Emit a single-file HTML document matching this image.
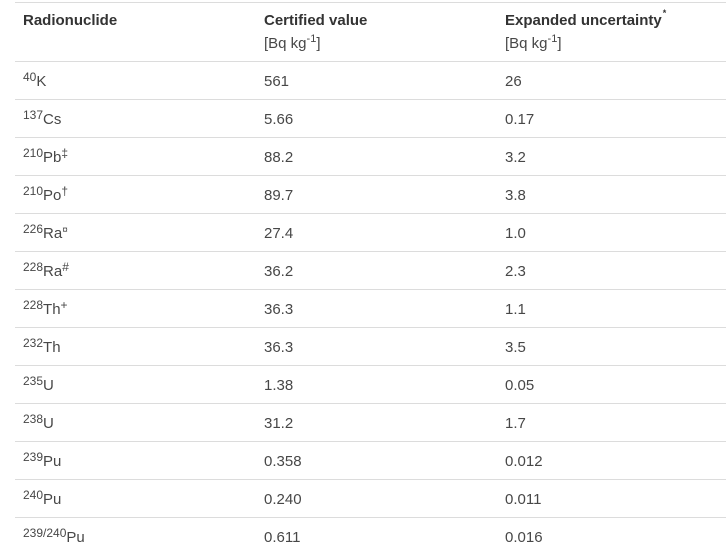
<!DOCTYPE html>
<html>
<head>
<meta charset="utf-8">
<style>
  html, body { margin:0; padding:0; background:#fff; }
  body { width:726px; height:553px; position:relative; overflow:hidden;
         font-family:"Liberation Sans", Arial, sans-serif; font-size:15px; color:#474747; }
  .ln { position:absolute; left:15px; right:0; height:1px; background:#dcdcdc; }
  .t { position:absolute; line-height:20px; white-space:nowrap; }
  .h { font-weight:bold; color:#333; }
  sup { font-size:12px; line-height:0; vertical-align:baseline; position:relative; top:-5px; }
  sup.s { font-size:11px; top:-6px; }
  sup.a { font-size:9px; top:-9px; margin-left:1px; }
  .c1 { left:23px; } .c2 { left:264px; } .c3 { left:505px; }
</style>
</head>
<body>
<div class="ln" style="top:2px"></div>
<div class="t h c1" style="top:11px">Radionuclide</div>
<div class="t h c2" style="top:11px">Certified value</div>
<div class="t h c3" style="top:11px">Expanded uncertainty<sup class="a">*</sup></div>
<div class="t c2" style="top:34px">[Bq kg<sup class="s">-1</sup>]</div>
<div class="t c3" style="top:34px">[Bq kg<sup class="s">-1</sup>]</div>

<div class="ln" style="top:61px"></div>
<div class="t c1" style="top:72px"><sup>40</sup>K</div>
<div class="t c2" style="top:72px">561</div>
<div class="t c3" style="top:72px">26</div>

<div class="ln" style="top:99px"></div>
<div class="t c1" style="top:110px"><sup>137</sup>Cs</div>
<div class="t c2" style="top:110px">5.66</div>
<div class="t c3" style="top:110px">0.17</div>

<div class="ln" style="top:137px"></div>
<div class="t c1" style="top:148px"><sup>210</sup>Pb<sup>‡</sup></div>
<div class="t c2" style="top:148px">88.2</div>
<div class="t c3" style="top:148px">3.2</div>

<div class="ln" style="top:175px"></div>
<div class="t c1" style="top:186px"><sup>210</sup>Po<sup>†</sup></div>
<div class="t c2" style="top:186px">89.7</div>
<div class="t c3" style="top:186px">3.8</div>

<div class="ln" style="top:213px"></div>
<div class="t c1" style="top:224px"><sup>226</sup>Ra<sup style="font-size:10px">¤</sup></div>
<div class="t c2" style="top:224px">27.4</div>
<div class="t c3" style="top:224px">1.0</div>

<div class="ln" style="top:251px"></div>
<div class="t c1" style="top:262px"><sup>228</sup>Ra<sup>#</sup></div>
<div class="t c2" style="top:262px">36.2</div>
<div class="t c3" style="top:262px">2.3</div>

<div class="ln" style="top:289px"></div>
<div class="t c1" style="top:300px"><sup>228</sup>Th<sup>+</sup></div>
<div class="t c2" style="top:300px">36.3</div>
<div class="t c3" style="top:300px">1.1</div>

<div class="ln" style="top:327px"></div>
<div class="t c1" style="top:338px"><sup>232</sup>Th</div>
<div class="t c2" style="top:338px">36.3</div>
<div class="t c3" style="top:338px">3.5</div>

<div class="ln" style="top:365px"></div>
<div class="t c1" style="top:376px"><sup>235</sup>U</div>
<div class="t c2" style="top:376px">1.38</div>
<div class="t c3" style="top:376px">0.05</div>

<div class="ln" style="top:403px"></div>
<div class="t c1" style="top:414px"><sup>238</sup>U</div>
<div class="t c2" style="top:414px">31.2</div>
<div class="t c3" style="top:414px">1.7</div>

<div class="ln" style="top:441px"></div>
<div class="t c1" style="top:452px"><sup>239</sup>Pu</div>
<div class="t c2" style="top:452px">0.358</div>
<div class="t c3" style="top:452px">0.012</div>

<div class="ln" style="top:479px"></div>
<div class="t c1" style="top:490px"><sup>240</sup>Pu</div>
<div class="t c2" style="top:490px">0.240</div>
<div class="t c3" style="top:490px">0.011</div>

<div class="ln" style="top:517px"></div>
<div class="t c1" style="top:528px"><sup>239/240</sup>Pu</div>
<div class="t c2" style="top:528px">0.611</div>
<div class="t c3" style="top:528px">0.016</div>
</body>
</html>
